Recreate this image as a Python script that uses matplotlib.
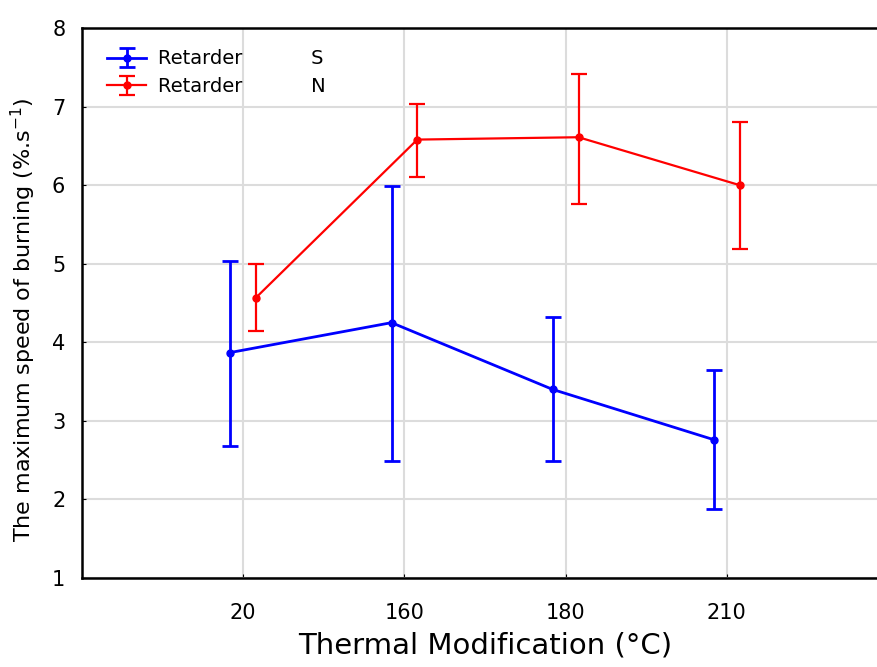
import matplotlib
matplotlib.use("Agg")
import matplotlib.pyplot as plt
import numpy as np

# ── data ───────────────────────────────────────────────────────────────────
categories = ["20", "160", "180", "210"]

s_mean = [3.87, 4.25, 3.40, 2.76]
s_upper = [5.03, 5.99, 4.32, 3.65]
s_lower = [2.68, 2.49, 2.49, 1.88]

n_mean = [4.57, 6.58, 6.61, 6.00]
n_upper = [5.00, 7.03, 7.41, 6.80]
n_lower = [4.15, 6.11, 5.76, 5.19]

x = np.arange(len(categories))

fig = plt.figure(figsize=(8.78, 6.67), dpi=100)
ax = fig.add_axes([0.0934, 0.1334, 0.918, 0.8246])

ax.errorbar(x - 0.08, s_mean,
            yerr=[np.subtract(s_mean, s_lower), np.subtract(s_upper, s_mean)],
            color="#0000ff", lw=2, marker="o", ms=5, capsize=6, capthick=2,
            elinewidth=2, label="Retarder           S", zorder=3)
ax.errorbar(x + 0.08, n_mean,
            yerr=[np.subtract(n_mean, n_lower), np.subtract(n_upper, n_mean)],
            color="#ff0000", lw=1.6, marker="o", ms=5, capsize=6, capthick=1.6,
            elinewidth=1.6, label="Retarder           N", zorder=3)

ax.set_xlim(-1.0, 4.0)
ax.set_ylim(1, 8)
ax.set_xticks(x)
ax.set_xticklabels(categories)
ax.set_yticks(range(1, 9))
ax.grid(True, color="#dcdcdc", lw=1.5, zorder=0)
ax.tick_params(labelsize=15, length=3, direction="in")
ax.tick_params(axis="x", pad=18)
ax.tick_params(axis="y", pad=12)
for sp in ax.spines.values():
    sp.set_linewidth(1.8)

ax.set_xlabel("Thermal Modification (°C)", fontsize=21, labelpad=6)
ax.set_ylabel("The maximum speed of burning (%.s$^{-1}$)", fontsize=16)
ax.yaxis.set_label_coords(-0.055, 0.47)

ax.legend(loc="upper left", bbox_to_anchor=(0.005, 1.0), frameon=False,
          fontsize=14, handlelength=2.0, handletextpad=0.6,
          labelspacing=0.45, borderaxespad=0.5, borderpad=0.6)

plt.savefig("out.png", dpi=100)
